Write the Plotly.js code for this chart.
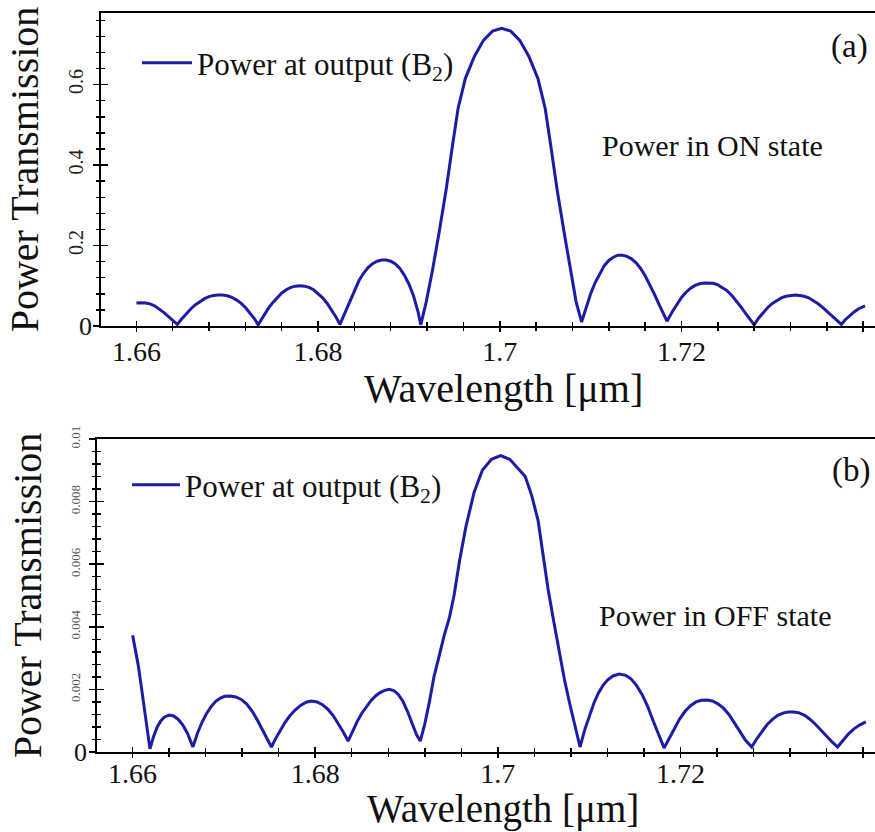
<!DOCTYPE html>
<html>
<head>
<meta charset="utf-8">
<script src="https://cdn.plot.ly/plotly-3.0.1.min.js"></script>
<style>html,body{margin:0;padding:0;background:#fff}#chart{width:875px;height:832px}</style>
</head>
<body>
<div id="chart"></div>
<script>
// ---- Data ----
const wavelengthOn = [
  1.6600,1.6605,1.6610,1.6615,1.6620,1.6625,1.6630,1.6635,1.6640,1.6645,
  1.6650,1.6655,1.6660,1.6665,1.6670,1.6675,1.6680,1.6685,1.6690,1.6695,1.6700,1.6705,1.6710,1.6715,1.6720,1.6725,1.6730,1.6734,
  1.6740,1.6745,1.6750,1.6755,1.6760,1.6765,1.6770,1.6775,1.6780,1.6785,1.6790,1.6795,1.6800,1.6805,1.6810,1.6815,1.6820,1.6824,
  1.6830,1.6835,1.6840,1.6845,1.6850,1.6855,1.6860,1.6865,1.6870,1.6875,1.6880,1.6885,1.6890,1.6895,1.6900,1.6905,1.6910,1.6913,
  1.6919,1.6926,1.6933,1.6941,1.6948,1.6954,1.6962,1.6972,1.6982,1.6992,1.7002,1.7012,1.7022,1.7032,1.7042,1.7050,1.7056,1.7063,1.7071,1.7078,1.7084,1.7090,
  1.7095,1.7100,1.7105,1.7110,1.7115,1.7120,1.7125,1.7130,1.7135,1.7140,1.7145,1.7150,1.7155,1.7160,1.7165,1.7170,1.7175,1.7180,1.7184,
  1.7190,1.7195,1.7200,1.7205,1.7210,1.7215,1.7220,1.7225,1.7230,1.7235,1.7240,1.7245,1.7250,1.7255,1.7260,1.7265,1.7270,1.7275,1.7280,
  1.7285,1.7290,1.7295,1.7300,1.7305,1.7310,1.7315,1.7320,1.7325,1.7330,1.7335,1.7340,1.7345,1.7350,1.7355,1.7360,1.7365,1.7370,1.7376,
  1.7380,1.7385,1.7390,1.7395,1.7402];
const powerOn = [
  0.057,0.058,0.057,0.055,0.050,0.043,0.034,0.024,0.014,0.004,
  0.018,0.031,0.043,0.053,0.061,0.068,0.073,0.076,0.077,0.077,0.075,0.071,0.065,0.057,0.046,0.033,0.018,0.003,
  0.025,0.043,0.058,0.071,0.082,0.090,0.096,0.099,0.100,0.099,0.096,0.090,0.081,0.070,0.056,0.040,0.021,0.004,
  0.035,0.065,0.091,0.113,0.131,0.145,0.155,0.161,0.164,0.164,0.161,0.154,0.143,0.126,0.104,0.075,0.035,0.003,
  0.060,0.140,0.230,0.340,0.450,0.540,0.615,0.670,0.710,0.733,0.740,0.733,0.710,0.670,0.615,0.540,0.450,0.340,0.230,0.140,0.060,0.010,
  0.045,0.080,0.108,0.131,0.150,0.163,0.171,0.176,0.176,0.173,0.167,0.157,0.143,0.125,0.104,0.080,0.055,0.030,0.012,
  0.036,0.055,0.071,0.084,0.094,0.101,0.105,0.107,0.107,0.106,0.102,0.096,0.088,0.077,0.064,0.049,0.033,0.017,0.003,
  0.020,0.034,0.046,0.056,0.064,0.070,0.074,0.076,0.077,0.076,0.074,0.070,0.064,0.056,0.047,0.037,0.026,0.015,0.004,
  0.015,0.026,0.035,0.043,0.050];

const wavelengthOff = [
  1.6600,1.6603,1.6606,1.6609,1.6612,1.6615,1.6619,
  1.6623,1.6627,1.6631,1.6635,1.6640,1.6645,1.6650,1.6655,1.6660,1.6666,
  1.6671,1.6676,1.6681,1.6686,1.6691,1.6696,1.6701,1.6707,1.6713,1.6719,1.6725,1.6731,1.6737,1.6743,1.6748,1.6752,
  1.6757,1.6762,1.6767,1.6772,1.6778,1.6784,1.6790,1.6796,1.6802,1.6808,1.6814,1.6820,1.6826,1.6831,1.6836,
  1.6841,1.6846,1.6851,1.6856,1.6861,1.6866,1.6871,1.6876,1.6881,1.6886,1.6891,1.6896,1.6901,1.6906,1.6911,1.6915,
  1.6920,1.6925,1.6930,1.6936,1.6941,1.6947,1.6952,1.6958,1.6965,1.6974,1.6983,1.6993,1.7003,1.7013,1.7021,1.7030,1.7037,1.7044,1.7050,1.7055,1.7061,1.7067,1.7073,1.7079,1.7085,1.7090,
  1.7095,1.7100,1.7105,1.7110,1.7115,1.7120,1.7126,1.7133,1.7140,1.7146,1.7152,1.7158,1.7164,1.7170,1.7176,1.7182,
  1.7187,1.7193,1.7199,1.7205,1.7211,1.7217,1.7223,1.7229,1.7235,1.7241,1.7247,1.7253,1.7259,1.7265,1.7271,1.7278,
  1.7283,1.7289,1.7295,1.7301,1.7307,1.7313,1.7318,1.7324,1.7330,1.7336,1.7342,1.7348,1.7354,1.7360,1.7366,1.7372,
  1.7378,1.7384,1.7390,1.7396,1.7403];
const powerOff = [
  0.00373,0.0033,0.0028,0.0022,0.0016,0.0010,0.0001,
  0.0005,0.0008,0.0010,0.00112,0.00118,0.00115,0.00104,0.00086,0.0006,0.00016,
  0.0006,0.00095,0.00123,0.00145,0.00162,0.00172,0.00178,0.00179,0.00176,0.00168,0.00153,0.0013,0.0010,0.00066,0.00038,0.00016,
  0.00045,0.00072,0.00095,0.00115,0.00134,0.00149,0.00159,0.00163,0.0016,0.00151,0.00136,0.00115,0.00088,0.00062,0.00035,
  0.00068,0.00098,0.00124,0.00146,0.00164,0.00179,0.0019,0.00197,0.0020,0.00196,0.00184,0.00162,0.0013,0.00092,0.00055,0.00035,
  0.0009,0.0016,0.0024,0.0031,0.0037,0.0043,0.0050,0.0061,0.0072,0.0083,0.0090,0.00935,0.00947,0.00935,0.0091,0.0088,0.0082,0.0074,0.0062,0.0052,0.0042,0.0032,0.0023,0.0015,0.0008,0.00016,
  0.0007,0.00115,0.00155,0.00188,0.00212,0.0023,0.00243,0.00249,0.00245,0.00233,0.00212,0.00183,0.00146,0.0010,0.00055,0.00013,
  0.0004,0.00075,0.00105,0.0013,0.00148,0.0016,0.00165,0.00166,0.00163,0.00154,0.0014,0.0012,0.00095,0.00066,0.00038,0.00016,
  0.0004,0.00065,0.00088,0.00105,0.00118,0.00125,0.00128,0.00128,0.00125,0.00117,0.00104,0.00088,0.00069,0.0005,0.00032,0.00016,
  0.00038,0.00058,0.00074,0.00086,0.00096];

const seriesName = 'Power at output (B<sub>2</sub>)';
const xTitle = 'Wavelength [μm]';
const yTitle = 'Power Transmission';
const topTickVals = [0.2, 0.4, 0.6];
const topTickText = ['0.2', '0.4', '0.6'];
const botTickVals = [0.002, 0.004, 0.006, 0.008, 0.01];
const botTickText = ['0.002', '0.004', '0.006', '0.008', '0.01'];
const zeroLabel = '0';

// ---- Layout helpers ----
const W = 875, H = 832;
const px = v => v / W;
const py = v => 1 - v / H;
const SERIF = 'Liberation Serif, Times New Roman, serif';
const LINE = '#1c1ca6';
const TICKC = '#000';

const xr1 = [1.6561, 1.7413], yr1 = [0, 0.778];
const xr2 = [1.6561, 1.7413], yr2 = [0, 0.01];

const traces = [
  {x: wavelengthOn, y: powerOn, xaxis: 'x', yaxis: 'y', mode: 'lines', name: seriesName,
   line: {color: LINE, width: 3}, legend: 'legend', hoverinfo: 'x+y'},
  {x: wavelengthOff, y: powerOff, xaxis: 'x2', yaxis: 'y2', mode: 'lines', name: seriesName,
   line: {color: LINE, width: 3}, legend: 'legend2', hoverinfo: 'x+y'},
  // invisible companions that carry the outer half of the crossing ticks
  {x: wavelengthOn, y: powerOn, xaxis: 'x3', yaxis: 'y3', mode: 'lines', showlegend: false,
   line: {width: 0}, opacity: 0, hoverinfo: 'skip'},
  {x: wavelengthOff, y: powerOff, xaxis: 'x4', yaxis: 'y4', mode: 'lines', showlegend: false,
   line: {width: 0}, opacity: 0, hoverinfo: 'skip'}
];

const baseX = (domain, range, labelOff) => ({
  domain, range, showgrid: false, zeroline: false,
  showline: true, linecolor: '#000', linewidth: 1.6, mirror: true,
  ticks: 'inside', ticklen: 5, tickwidth: 1.5, tickcolor: TICKC,
  tick0: 1.66, dtick: 0.02,
  minor: {dtick: 0.004, tick0: 1.66, ticks: 'inside', ticklen: 4, tickwidth: 1.4, tickcolor: TICKC, showgrid: false},
  tickfont: {family: SERIF, size: 28, color: '#111'},
  ticklabelstandoff: labelOff,
  automargin: false, fixedrange: true
});
const outerX = (over, anchor, range) => ({
  overlaying: over, anchor, range, showgrid: false, zeroline: false, showline: false,
  ticks: 'outside', ticklen: 5, tickwidth: 1.5, tickcolor: TICKC, tick0: 1.66, dtick: 0.02,
  minor: {dtick: 0.004, tick0: 1.66, ticks: 'outside', ticklen: 4, tickwidth: 1.4, tickcolor: TICKC},
  showticklabels: false, fixedrange: true
});
const baseY = (domain, range, vals, text, minorStep, fsize, fcolor, labelOff) => ({
  domain, range, showgrid: false, zeroline: false,
  showline: true, linecolor: '#000', linewidth: 1.6,
  ticks: 'inside', ticklen: 7, tickwidth: 1.5, tickcolor: TICKC,
  tickmode: 'array', tickvals: vals, ticktext: text, tickangle: -90,
  minor: {tick0: 0, dtick: minorStep, ticks: 'inside', ticklen: 4, tickwidth: 1.4, tickcolor: TICKC, showgrid: false},
  tickfont: {family: SERIF, size: fsize, color: fcolor},
  ticklabelstandoff: labelOff,
  title: {text: yTitle, font: {family: SERIF, size: 40, color: '#111'}, standoff: 14},
  automargin: false, fixedrange: true
});
const outerY = (over, anchor, range, vals, minorStep) => ({
  overlaying: over, anchor, range, showgrid: false, zeroline: false, showline: false,
  ticks: 'outside', ticklen: 7, tickwidth: 1.5, tickcolor: TICKC,
  tickmode: 'array', tickvals: [0].concat(vals),
  minor: {tick0: 0, dtick: minorStep, ticks: 'outside', ticklen: 4, tickwidth: 1.4, tickcolor: TICKC},
  showticklabels: false, fixedrange: true
});

const layout = {
  width: W, height: H,
  margin: {l: 0, r: 0, t: 0, b: 0},
  paper_bgcolor: '#fff', plot_bgcolor: '#fff',
  showlegend: true,
  xaxis: Object.assign(baseX([px(101), 1], xr1, 0), {anchor: 'y'}),
  yaxis: Object.assign(baseY([py(326), py(13)], yr1, topTickVals, topTickText, 0.04, 20, '#222', 8), {anchor: 'x'}),
  xaxis2: Object.assign(baseX([px(97), 1], xr2, -4), {anchor: 'y2'}),
  yaxis2: Object.assign(baseY([py(752), py(439)], yr2, botTickVals, botTickText, 0.0004, 13, '#555', 10), {anchor: 'x2'}),
  xaxis3: outerX('x', 'y', xr1),
  yaxis3: outerY('y', 'x', yr1, topTickVals, 0.04),
  xaxis4: outerX('x2', 'y2', xr2),
  yaxis4: outerY('y2', 'x2', yr2, botTickVals, 0.0004),
  legend: {x: px(137), y: py(63), xanchor: 'left', yanchor: 'middle', bgcolor: 'rgba(0,0,0,0)',
           font: {family: SERIF, size: 31, color: '#111'}, itemwidth: 50},
  legend2: {x: px(127), y: py(485), xanchor: 'left', yanchor: 'middle', bgcolor: 'rgba(0,0,0,0)',
            font: {family: SERIF, size: 31, color: '#111'}, itemwidth: 48},
  annotations: [
    {text: xTitle, xref: 'paper', yref: 'paper', x: px(503), y: py(388), xanchor: 'center', yanchor: 'middle',
     showarrow: false, font: {family: SERIF, size: 40, color: '#111'}},
    {text: xTitle, xref: 'paper', yref: 'paper', x: px(503), y: py(809), xanchor: 'center', yanchor: 'middle',
     showarrow: false, font: {family: SERIF, size: 39, color: '#111'}},
    {text: '(a)', xref: 'paper', yref: 'paper', x: px(849), y: py(47), xanchor: 'center', yanchor: 'middle',
     showarrow: false, font: {family: SERIF, size: 33, color: '#111'}},
    {text: 'Power in ON state', xref: 'paper', yref: 'paper', x: px(712), y: py(145), xanchor: 'center', yanchor: 'middle',
     showarrow: false, font: {family: SERIF, size: 30, color: '#111'}},
    {text: '(b)', xref: 'paper', yref: 'paper', x: px(851), y: py(470), xanchor: 'center', yanchor: 'middle',
     showarrow: false, font: {family: SERIF, size: 33, color: '#111'}},
    {text: 'Power in OFF state', xref: 'paper', yref: 'paper', x: px(715), y: py(615), xanchor: 'center', yanchor: 'middle',
     showarrow: false, font: {family: SERIF, size: 30, color: '#111'}},
    {text: zeroLabel, xref: 'paper', yref: 'paper', x: px(85), y: py(326), xanchor: 'center', yanchor: 'middle',
     showarrow: false, font: {family: SERIF, size: 26, color: '#111'}},
    {text: zeroLabel, xref: 'paper', yref: 'paper', x: px(80), y: py(752), xanchor: 'center', yanchor: 'middle',
     showarrow: false, font: {family: SERIF, size: 26, color: '#111'}}
  ]
};

Plotly.newPlot('chart', traces, layout, {displayModeBar: false, staticPlot: true});
</script>
</body>
</html>
